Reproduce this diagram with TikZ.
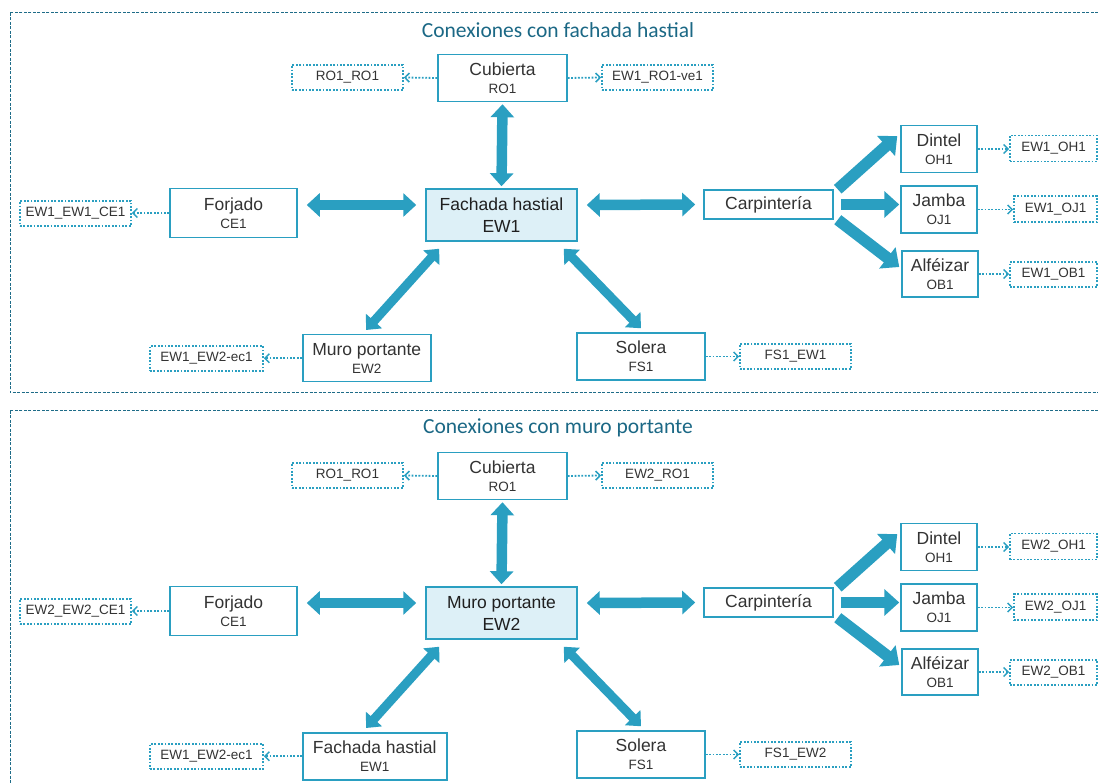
\documentclass[tikz,border=0pt]{standalone}
\usepackage{fontspec}
\setmainfont{Liberation Sans}
\newfontfamily\titlefont{Carlito}
\usetikzlibrary{arrows.meta}

\definecolor{linkblue}{RGB}{42,159,193}
\definecolor{framecol}{RGB}{30,108,136}
\definecolor{titlecol}{RGB}{27,104,133}
\definecolor{hubfill}{RGB}{221,240,247}
\definecolor{txt}{RGB}{51,51,51}

\tikzset{
  elem/.style={draw=linkblue, line width=1.5pt, fill=white, inner sep=0pt,
    align=center, text=txt, font=\fontsize{17.5}{18}\selectfont},
  core/.style={elem, fill=hubfill, text=black!88, font=\fontsize{17.5}{22}\selectfont},
  joint/.style={draw=linkblue, line width=1.6pt, dash pattern=on 1.8pt off 1.6pt,
    inner sep=0pt, text=txt, font=\fontsize{13.5}{15}\selectfont},
  link/.style={draw=linkblue, line width=1.8pt, dash pattern=on 1.8pt off 1.6pt,
    -{Straight Barb[length=4.5pt,width=9pt,line width=1.5pt]}},
  both/.style={draw=linkblue, line width=10.5pt,
    {Triangle[length=13pt,width=23pt]}-{Triangle[length=13pt,width=23pt]}},
  slim both/.style={draw=linkblue, line width=9pt,
    {Triangle[length=12pt,width=21pt]}-{Triangle[length=12pt,width=21pt]}},
  branch/.style={draw=linkblue, line width=11.5pt, -{Triangle[length=15pt,width=26pt]}},
  frame/.style={draw=framecol, line width=1pt, dash pattern=on 3pt off 1.5pt},
  heading/.style={text=titlecol, inner sep=0pt, font=\titlefont\fontsize{21.5}{24}\selectfont},
}
\newcommand\sublabel[1]{\\{\fontsize{13.5}{18}\selectfont #1}}

% #1 vertical offset, #2 heading, #3/#4 central element and code,
% #5/#6 lower-left element and code, #7 its width,
% #8 roof joint label, #9 floor joint label
\newcommand\drawpanel[9]{%
\begin{scope}[yshift=-#1pt, name prefix=p#1-]
  \draw[frame] (10,13) rectangle (1110,393);
  \node[heading] (title) at (558,30) {#2};

  \node[elem, minimum width=129pt, minimum height=47pt] (cub) at (502.5,78) {Cubierta\sublabel{RO1}};
  \node[joint, minimum width=111pt, minimum height=25pt] (ro) at (347.5,77.5) {RO1\_RO1};
  \node[joint, minimum width=111pt, minimum height=25pt] (rove) at (657.5,77.5) {#8};

  \node[core, minimum width=151pt, minimum height=52pt] (core) at (501.5,215) {#3\\#4};

  \node[elem, minimum width=127pt, minimum height=49pt] (forj) at (233.5,213) {Forjado\sublabel{CE1}};
  \node[joint, minimum width=111pt, minimum height=25pt] (ce) at (75.5,213.5) {#9};

  \node[elem, minimum width=129pt, minimum height=29pt] (carp) at (768.5,204.5) {Carpintería};
  \node[elem, minimum width=76pt, minimum height=47pt] (dint) at (939,149) {Dintel\sublabel{OH1}};
  \node[elem, minimum width=76pt, minimum height=47pt] (jamb) at (939,209.5) {Jamba\sublabel{OJ1}};
  \node[elem, minimum width=76pt, minimum height=46pt] (alf) at (940,274) {Alféizar\sublabel{OB1}};
  \node[joint, minimum width=87pt, minimum height=26pt] (oh) at (1053.5,148.5) {#4\_OH1};
  \node[joint, minimum width=83pt, minimum height=26pt] (oj) at (1055.5,209) {#4\_OJ1};
  \node[joint, minimum width=87pt, minimum height=25pt] (ob) at (1053.5,274.5) {#4\_OB1};

  \node[elem, anchor=north west, minimum width=#7pt, minimum height=47pt] (side) at (302,334) {#5\sublabel{#6}};
  \node[joint, minimum width=113pt, minimum height=25pt] (ec) at (206.5,358.5) {EW1\_EW2-ec1};
  \node[elem, minimum width=128pt, minimum height=47pt] (sol) at (641,356.5) {Solera\sublabel{FS1}};
  \node[joint, minimum width=111pt, minimum height=25pt] (fs) at (795.5,356.5) {FS1\_#4};

  % joint references
  \draw[link] (cub.west) -- (ro.east);
  \draw[link] (cub.east) -- (rove.west);
  \draw[link] (forj.west) -- (forj.west -| ce.east);
  \draw[link] (dint.east) -- (dint.east -| oh.west);
  \draw[link] (jamb.east) -- (jamb.east -| oj.west);
  \draw[link] (alf.east) -- (alf.east -| ob.west);
  \draw[link] (side.west) -- (side.west -| ec.east);
  \draw[link] (sol.east) -- (sol.east -| fs.west);

  % connections of the central element
  \draw[both] ([yshift=-2pt]cub.south) -- ([yshift=2pt]core.north);
  \draw[both] ([xshift=9pt,yshift=8pt]forj.east) -- ([xshift=-9pt,yshift=10pt]core.west);
  \draw[both] ([xshift=9pt,yshift=10pt]core.east) -- ([xshift=-8pt]carp.west);
  \draw[slim both] ([xshift=14pt,yshift=-7pt]core.south west) -- ([xshift=64pt,yshift=4pt]side.north west);
  \draw[slim both] ([xshift=-14pt,yshift=-7pt]core.south east) -- ([yshift=4pt]sol.north);

  % opening elements
  \draw[branch] ([xshift=4pt]carp.north east) -- ([xshift=-3pt,yshift=13pt]dint.west);
  \draw[branch] ([xshift=7pt]carp.east) -- ([xshift=-1pt,yshift=5pt]jamb.west);
  \draw[branch] ([xshift=4pt]carp.south east) -- ([xshift=-2pt,yshift=7pt]alf.west);
\end{scope}}

\begin{document}
\begin{tikzpicture}[x=1pt, y=-1pt]
  \useasboundingbox (0,0) rectangle (1098,783);
  \drawpanel{0}{Conexiones con fachada hastial}{Fachada hastial}{EW1}%
    {Muro portante}{EW2}{128}{EW1\_RO1-ve1}{EW1\_EW1\_CE1}
  \drawpanel{398}{Conexiones con muro portante}{Muro portante}{EW2}%
    {Fachada hastial}{EW1}{144}{EW2\_RO1}{EW2\_EW2\_CE1}
\end{tikzpicture}
\end{document}
